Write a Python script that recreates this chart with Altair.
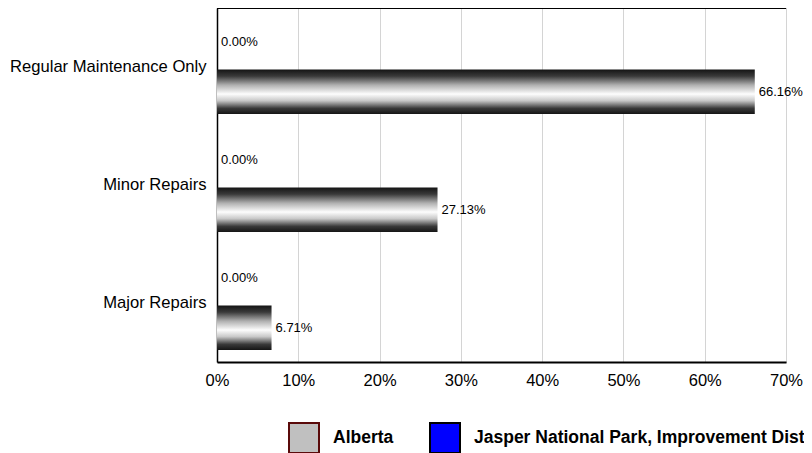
import altair as alt
import pandas as pd

categories = ["Regular Maintenance Only", "Minor Repairs", "Major Repairs"]
series_names = ["Jasper National Park, Improvement District", "Alberta"]
jasper_values = [0.0, 0.0, 0.0]
alberta_values = [66.16, 27.13, 6.71]
x_ticks = [0, 10, 20, 30, 40, 50, 60, 70]
legend_order = ["Alberta", "Jasper National Park, Improvement District"]
legend_fill = ["#c0c0c0", "#0000ff"]
legend_stroke = ["#5a0a0a", "#000000"]

rows = []
for i, c in enumerate(categories):
    rows.append({"category": c, "series": series_names[0], "value": jasper_values[i]})
    rows.append({"category": c, "series": series_names[1], "value": alberta_values[i]})
df = pd.DataFrame(rows)

W, H = 569, 354
FONT = "Liberation Sans"

gradient = {
    "gradient": "linear",
    "x1": 0, "y1": 0, "x2": 0, "y2": 1,
    "stops": [
        {"offset": 0.0, "color": "#141414"},
        {"offset": 0.15, "color": "#3a3a3a"},
        {"offset": 0.35, "color": "#b0b0b0"},
        {"offset": 0.55, "color": "#fdfdfd"},
        {"offset": 0.7, "color": "#c8c8c8"},
        {"offset": 0.87, "color": "#3a3a3a"},
        {"offset": 1.0, "color": "#141414"},
    ],
}

y_enc = alt.Y(
    "category:N",
    sort=categories,
    scale=alt.Scale(paddingInner=0, paddingOuter=0),
    axis=alt.Axis(
        title=None, ticks=False, labelFontSize=16.6, labelFont=FONT,
        labelColor="black", labelPadding=11, domainColor="black",
        domainWidth=1.5, grid=False, labelLimit=400,
    ),
)
yoff_enc = alt.YOffset(
    "series:N", sort=series_names,
    scale=alt.Scale(paddingInner=0.1, paddingOuter=0.24),
)
x_enc = alt.X(
    "value:Q",
    scale=alt.Scale(domain=[0, 70], nice=False),
    axis=alt.Axis(
        values=x_ticks, labelExpr="datum.value + '%'", title=None,
        ticks=False, gridColor="#d4d4d4", domainColor="black",
        domainWidth=1.8, labelFontSize=16.5, labelFont=FONT,
        labelColor="black", labelPadding=10, labelFlush=False,
    ),
)

base = alt.Chart(df)

bars = base.mark_bar(fill=gradient).encode(x=x_enc, y=y_enc, yOffset=yoff_enc)

labels = base.transform_calculate(
    label="format(datum.value, '.2f') + '%'"
).mark_text(
    align="left", baseline="middle", dx=4, fontSize=13, font=FONT, color="black"
).encode(x="value:Q", y=alt.Y("category:N", sort=categories), yOffset=yoff_enc, text="label:N")

leg = alt.Legend(
    orient="none", legendX=71, legendY=414, direction="horizontal", title=None,
    symbolType="square", symbolSize=900, symbolStrokeWidth=2, symbolOpacity=1,
    labelFontSize=17.5, labelFontWeight="bold", labelFont=FONT, labelColor="black",
    labelOffset=13, columnPadding=32, padding=0, labelLimit=1000,
)

legend_layer = base.transform_filter("false").mark_square(
    filled=True, size=900, strokeWidth=2
).encode(
    x="value:Q",
    y=alt.Y("category:N", sort=categories),
    color=alt.Color("series:N", scale=alt.Scale(domain=legend_order, range=legend_fill), legend=leg),
    stroke=alt.Stroke("series:N", scale=alt.Scale(domain=legend_order, range=legend_stroke), legend=leg),
)

top_rule = alt.Chart(df).mark_rule(color="black", strokeWidth=1.5).encode(
    x=alt.value(0), x2=alt.value(W), y=alt.value(0)
)

chart = alt.layer(bars, labels, legend_layer, top_rule).properties(
    width=W, height=H,
    autosize=alt.AutoSizeParams(type="none"),
    padding={"left": 209, "top": 0, "right": 18, "bottom": 91},
    background="white",
).configure_view(stroke="#a0a0a0", strokeWidth=1)

chart.save("out.html", embed_options={"renderer": "svg", "actions": False})
